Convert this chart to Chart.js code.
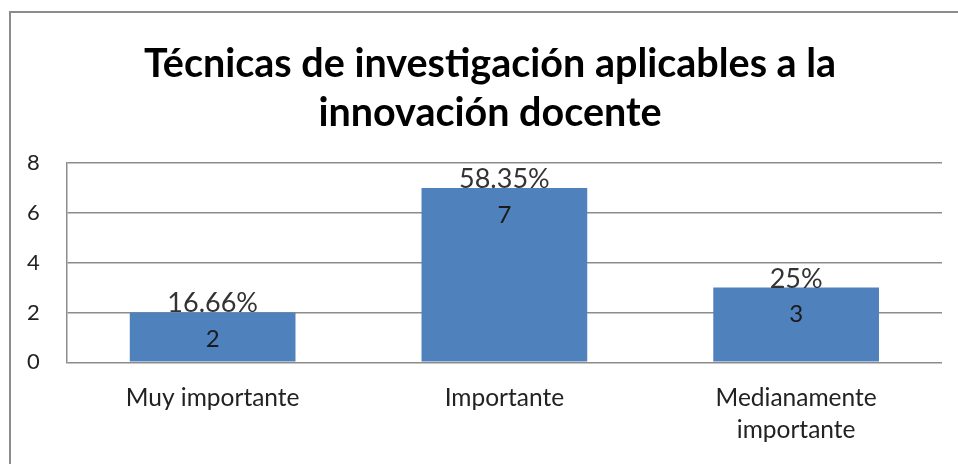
<!DOCTYPE html>
<html>
<head>
<meta charset="utf-8">
<script src="https://cdn.jsdelivr.net/npm/chart.js@4"></script>
<style>
  html, body { margin: 0; padding: 0; background: #fff; }
  #wrap { width: 958px; height: 464px; }
</style>
</head>
<body>
<div id="wrap"><canvas id="tecnicasChart" width="958" height="464"></canvas></div>
<script>
// Datos del gráfico
const categories = ['Muy importante', 'Importante', ['Medianamente', 'importante']];
const counts = [2, 7, 3];
const percentLabels = ['16.66%', '58.35%', '25%'];
const titleLines = ['Técnicas de investigación aplicables a la', 'innovación docente'];
const yMin = 0;
const yMax = 8;
const yStep = 2;

const FONT = 'Lato, "Open Sans", sans-serif';

// Marco gris alrededor del gráfico (como en Excel) + título centrado en el marco
const framePlugin = {
    id: 'frame',
    beforeDraw(chart) {
        const ctx = chart.ctx;
        ctx.save();
        ctx.fillStyle = '#ffffff';
        ctx.fillRect(0, 0, chart.width, chart.height);
        ctx.strokeStyle = '#8c8c8c';
        ctx.lineWidth = 2;
        ctx.strokeRect(10, 12, chart.width + 20, chart.height + 20);

        // Título (dos líneas)
        ctx.fillStyle = '#000000';
        ctx.font = 'bold 39.5px ' + FONT;
        ctx.textAlign = 'center';
        ctx.textBaseline = 'middle';
        const lineH = 49;
        titleLines.forEach((line, i) => {
            ctx.fillText(line, 490, 40 + lineH * (i + 0.5));
        });
        ctx.restore();
    }
};

// Etiquetas: porcentaje encima de la barra y valor dentro
const barLabelsPlugin = {
    id: 'barLabels',
    afterDatasetsDraw(chart) {
        const ctx = chart.ctx;
        const meta = chart.getDatasetMeta(0);
        ctx.save();
        ctx.textAlign = 'center';
        meta.data.forEach((bar, i) => {
            ctx.fillStyle = '#333333';
            ctx.font = '27px ' + FONT;
            ctx.textBaseline = 'alphabetic';
            ctx.fillText(percentLabels[i], bar.x, bar.y);

            ctx.fillStyle = '#1a1a1a';
            ctx.font = '24px ' + FONT;
            ctx.textBaseline = 'middle';
            ctx.fillText(String(counts[i]), bar.x, bar.y + 27);
        });
        ctx.restore();
    }
};

const ctx = document.getElementById('tecnicasChart').getContext('2d');
window.myChart = new Chart(ctx, {
    type: 'bar',
    data: {
        labels: categories,
        datasets: [{
            data: counts,
            backgroundColor: '#4f81bd',
            borderWidth: 0,
            categoryPercentage: 1,
            barPercentage: 0.568
        }]
    },
    options: {
        responsive: false,
        animation: false,
        layout: {
            padding: { left: 0, right: 16, top: 163, bottom: 6 }
        },
        plugins: {
            legend: { display: false },
            tooltip: { enabled: false },
            title: { display: false }
        },
        scales: {
            x: {
                grid: { display: false },
                border: { display: false },
                ticks: {
                    color: '#222222',
                    font: { family: FONT, size: 24.5, lineHeight: 1.3 },
                    padding: 12,
                    maxRotation: 0,
                    autoSkip: false
                }
            },
            y: {
                min: yMin,
                max: yMax,
                border: { display: true, color: '#8c8c8c', width: 1.5 },
                grid: { color: '#8c8c8c', lineWidth: 1.5, drawTicks: false },
                ticks: {
                    stepSize: yStep,
                    color: '#222222',
                    font: { family: FONT, size: 22 },
                    padding: 27
                }
            }
        }
    },
    plugins: [framePlugin, barLabelsPlugin]
});
</script>
</body>
</html>
